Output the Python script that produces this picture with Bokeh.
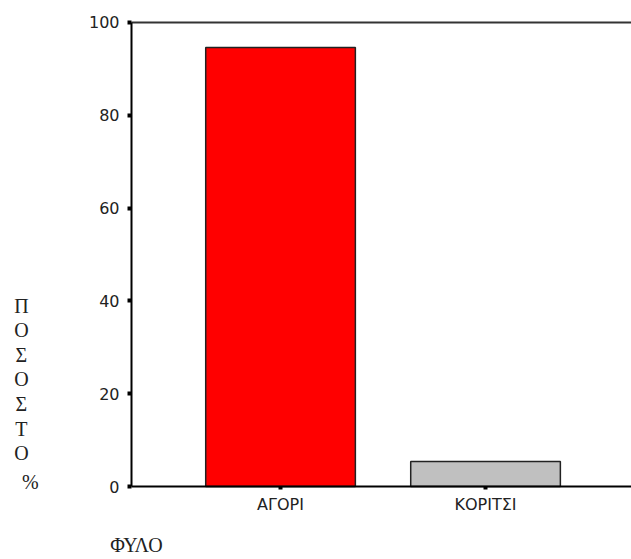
from bokeh.plotting import figure
from bokeh.models import (Range1d, FixedTicker, LinearAxis, Label, ColumnDataSource)
from bokeh.embed import file_html
from bokeh.resources import INLINE

# ---- data ----
categories = ["ΑΓΟΡΙ", "ΚΟΡΙΤΣΙ"]
percent = [94.6, 5.4]
bar_colors = ["#FF0000", "#C0C0C0"]
y_ticks = [0, 20, 40, 60, 80, 100]
y_title_chars = ["Π", "Ο", "Σ", "Ο", "Σ", "Τ", "Ο", "%"]
x_title = "ΦΥΛΟ"

# category slot centres on a numeric axis (one unit per category)
x_pos = [i + 0.5 for i in range(len(categories))]

src = ColumnDataSource(dict(x=x_pos, val=percent, color=bar_colors))

# layout constants (frame edges in data units)
X0, X1 = -0.866, 2.212      # visible x extent
XAX = -0.227                # where the y axis sits
Y0, Y1 = -15.3, 104.74      # visible y extent

p = figure(
    x_range=Range1d(X0, X1), y_range=Range1d(Y0, Y1),
    width=631, height=557,
    min_border=0, min_border_left=0, min_border_right=0,
    min_border_top=0, min_border_bottom=0,
    x_axis_location=None, y_axis_location=None,
    output_backend="svg", toolbar_location=None,
)
p.outline_line_color = None
p.grid.visible = False
p.background_fill_color = "white"
p.border_fill_color = "white"

p.vbar(x="x", top="val", width=0.73, bottom=0, source=src,
       fill_color="color", line_color="#222222", line_width=1.5)

# y axis
ya = LinearAxis(fixed_location=XAX, bounds=(0, 100),
                ticker=FixedTicker(ticks=y_ticks))
ya.axis_line_color = "black"
ya.axis_line_width = 2
ya.major_tick_in = 0
ya.major_tick_out = 4
ya.major_tick_line_width = 4
ya.minor_tick_line_color = None
ya.major_label_standoff = 8
ya.major_label_text_font = "DejaVu Sans"
ya.major_label_text_font_size = "16px"
ya.major_label_text_color = "#222222"
p.add_layout(ya, "left")

# x axis
xa = LinearAxis(fixed_location=0, bounds=(XAX, X1),
                ticker=FixedTicker(ticks=x_pos),
                major_label_overrides={x: c for x, c in zip(x_pos, categories)})
xa.axis_line_color = "black"
xa.axis_line_width = 2
xa.major_tick_in = 0
xa.major_tick_out = 3
xa.major_tick_line_width = 4
xa.minor_tick_line_color = None
xa.major_label_standoff = 5
xa.major_label_text_font = "DejaVu Sans"
xa.major_label_text_font_size = "16px"
xa.major_label_text_color = "#222222"
p.add_layout(xa, "below")

# top line
top = LinearAxis(fixed_location=100, bounds=(XAX, X1), ticker=FixedTicker(ticks=[]),
                 axis_line_color="#333333", axis_line_width=2,
                 major_tick_out=0, major_tick_in=0, minor_tick_out=0, minor_tick_in=0,
                 major_label_text_font_size="0px")
p.add_layout(top, "above")

# vertical stacked y title
for i, ch in enumerate(y_title_chars):
    yv = 39.0 - i * 5.3
    xv = -0.764
    if ch == "%":
        yv = 0.9
        xv = -0.72
    p.add_layout(Label(x=xv, y=yv, text=ch,
                       text_font="Liberation Serif", text_font_size="20px",
                       text_align="center", text_baseline="middle",
                       text_color="#222222"))

p.add_layout(Label(x=-0.331, y=-12.6, text=x_title,
                   text_font="Liberation Serif", text_font_size="20px",
                   text_align="left", text_baseline="middle", text_color="#222222"))

open("out.html", "w").write(file_html(p, INLINE))
